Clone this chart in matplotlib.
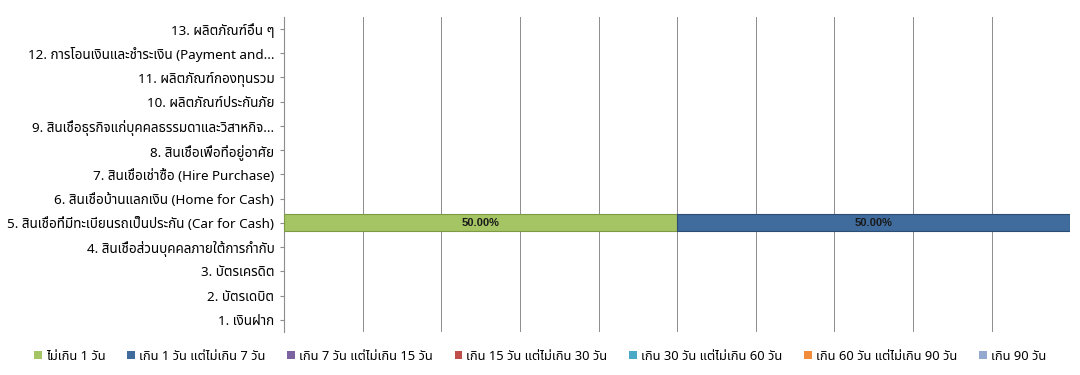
import numpy as np
from matplotlib import pyplot as plt

categories = [
    '1. เงินฝาก',
    '2. บัตรเดบิต',
    '3. บัตรเครดิต',
    '4. สินเชื่อส่วนบุคคลภายใต้การกำกับ',
    '5. สินเชื่อที่มีทะเบียนรถเป็นประกัน (Car for Cash)',
    '6. สินเชื่อบ้านแลกเงิน (Home for Cash)',
    '7. สินเชื่อเช่าซื้อ (Hire Purchase)',
    '8. สินเชื่อเพื่อที่อยู่อาศัย',
    '9. สินเชื่อธุรกิจแก่บุคคลธรรมดาและวิสาหกิจ...',
    '10. ผลิตภัณฑ์ประกันภัย',
    '11. ผลิตภัณฑ์กองทุนรวม',
    '12. การโอนเงินและชำระเงิน (Payment and...',
    '13. ผลิตภัณฑ์อื่น ๆ',
]

series_names = [
    'ไม่เกิน 1 วัน',
    'เกิน 1 วัน แต่ไม่เกิน 7 วัน',
    'เกิน 7 วัน แต่ไม่เกิน 15 วัน',
    'เกิน 15 วัน แต่ไม่เกิน 30 วัน',
    'เกิน 30 วัน แต่ไม่เกิน 60 วัน',
    'เกิน 60 วัน แต่ไม่เกิน 90 วัน',
    'เกิน 90 วัน',
]

# percent per category (1..13), one list per series
s_le1 = [0, 0, 0, 0, 50, 0, 0, 0, 0, 0, 0, 0, 0]
s_1_7 = [0, 0, 0, 0, 50, 0, 0, 0, 0, 0, 0, 0, 0]
s_7_15 = [0] * 13
s_15_30 = [0] * 13
s_30_60 = [0] * 13
s_60_90 = [0] * 13
s_gt90 = [0] * 13

colors = ['#a5c463', '#3f6b9d', '#7b62a0', '#bf4d4a', '#4aa9c4', '#f08c3a', '#93a9cf']
edges = ['#7e9a45', '#2c4d74', '#5a467a', '#8f3633', '#33809a', '#b8662a', '#6f84a8']

plt.rcParams['font.family'] = ['Noto Sans Thai', 'DejaVu Sans']

data = np.array([s_le1, s_1_7, s_7_15, s_15_30, s_30_60, s_60_90, s_gt90], dtype=float)
y = np.arange(len(categories))

fig = plt.figure(figsize=(10.8, 3.75), dpi=100)
ax = fig.add_axes([0.263, 0.115, 0.728, 0.84])

left = np.zeros(len(categories))
handles = []
for i in range(len(series_names)):
    # no outline on empty segments, otherwise they show up along the axis
    lw = [0.8 if v > 0 else 0 for v in data[i]]
    bars = ax.barh(y, data[i], left=left, height=0.7, color=colors[i],
                   edgecolor=edges[i], linewidth=lw, label=series_names[i], zorder=3)
    handles.append(bars)
    for j in range(len(categories)):
        if data[i, j] > 0:
            ax.text(left[j] + data[i, j] / 2, y[j], '%.2f%%' % data[i, j],
                    ha='center', va='center', fontsize=8, fontweight='bold',
                    family='Liberation Sans', color='#1a1a1a', zorder=4)
    left += data[i]

ax.set_xlim(0, 100)
ax.set_ylim(-0.5, len(categories) - 0.5)
ax.set_yticks(y)
ax.set_yticklabels(categories, fontsize=9.7)
ax.set_xticks(np.arange(0, 101, 10))
ax.tick_params(axis='x', length=0, labelbottom=False)
ax.tick_params(axis='y', length=3, color='#8c8c8c', pad=4)
ax.grid(axis='x', color='#8c8c8c', linewidth=0.7, zorder=0)
for s in ['top', 'right', 'bottom']:
    ax.spines[s].set_visible(False)
ax.spines['left'].set_color('#8c8c8c')
ax.spines['left'].set_linewidth(0.8)

fig.legend(handles=handles, labels=series_names, loc='center', bbox_to_anchor=(0.5, 0.05),
           ncol=7, frameon=False, fontsize=9.3, handlelength=0.6, handleheight=0.6,
           handletextpad=0.3, columnspacing=1.7)

fig.savefig('out.png', dpi=100)
